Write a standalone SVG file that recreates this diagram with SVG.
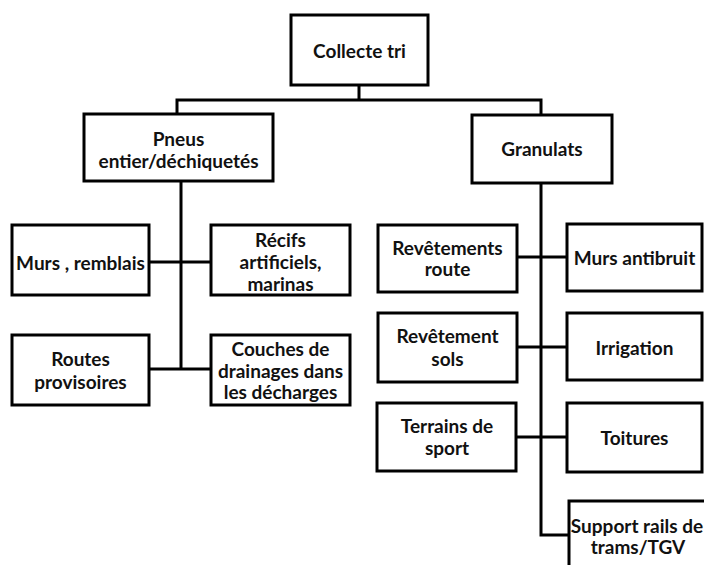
<svg xmlns="http://www.w3.org/2000/svg" width="704" height="565" viewBox="0 0 704 565">
<style>
  .box { fill: #fff; stroke: #000; stroke-width: 3; }
  .conn { fill: none; stroke: #000; stroke-width: 3; }
  text { font-family: Lato, "Open Sans", "Liberation Sans", sans-serif; font-weight: bold; font-size: 19px; fill: #111; text-anchor: middle; dominant-baseline: central; }
</style>
<rect width="704" height="565" fill="#fff"/>
<g id="connectors">
  <path class="conn" d="M359,85 V100 M177,114 V100 H541 V115"/>
  <path class="conn" d="M181,182 V369 M149,262 H211 M149,369 H211"/>
  <path class="conn" d="M541,183 V535 H569 M517,257 H567 M517,347 H567 M517,437 H567"/>
</g>
<g id="collecte">
  <rect class="box" x="291" y="15" width="137" height="70"/>
  <text x="359.5" y="50">Collecte tri</text>
</g>
<g id="pneus">
  <rect class="box" x="84" y="114" width="189" height="67"/>
  <text x="178.5" y="138">Pneus</text>
  <text x="178.5" y="160">entier/déchiquetés</text>
</g>
<g id="granulats">
  <rect class="box" x="472" y="115" width="140" height="68"/>
  <text x="542" y="148">Granulats</text>
</g>
<g id="murs-remblais">
  <rect class="box" x="12" y="225" width="137" height="70"/>
  <text x="80.5" y="262">Murs , remblais</text>
</g>
<g id="recifs">
  <rect class="box" x="211" y="225" width="139" height="70"/>
  <text x="280.5" y="239">Récifs</text>
  <text x="280.5" y="261">artificiels,</text>
  <text x="280.5" y="283">marinas</text>
</g>
<g id="routes">
  <rect class="box" x="12" y="335" width="137" height="70"/>
  <text x="80.5" y="358">Routes</text>
  <text x="80.5" y="381">provisoires</text>
</g>
<g id="couches">
  <rect class="box" x="211" y="335" width="139" height="70"/>
  <text x="280.5" y="348">Couches de</text>
  <text x="280.5" y="370">drainages dans</text>
  <text x="280.5" y="391">les décharges</text>
</g>
<g id="revetements-route">
  <rect class="box" x="378" y="225" width="139" height="67"/>
  <text x="447.5" y="247">Revêtements</text>
  <text x="447.5" y="268">route</text>
</g>
<g id="murs-antibruit">
  <rect class="box" x="567" y="224" width="135" height="67"/>
  <text x="634.5" y="257">Murs antibruit</text>
</g>
<g id="revetement-sols">
  <rect class="box" x="378" y="313" width="139" height="69"/>
  <text x="447.5" y="335">Revêtement</text>
  <text x="447.5" y="358">sols</text>
</g>
<g id="irrigation">
  <rect class="box" x="567" y="313" width="135" height="67"/>
  <text x="634.5" y="347">Irrigation</text>
</g>
<g id="terrains">
  <rect class="box" x="377" y="403" width="139" height="68"/>
  <text x="447" y="425">Terrains de</text>
  <text x="447" y="447">sport</text>
</g>
<g id="toitures">
  <rect class="box" x="567" y="403" width="135" height="69"/>
  <text x="634.5" y="437">Toitures</text>
</g>
<g id="support-rails">
  <rect class="box" x="569" y="501" width="150" height="80"/>
  <text x="637" y="525">Support rails de</text>
  <text x="638" y="546">trams/TGV</text>
</g>
</svg>
